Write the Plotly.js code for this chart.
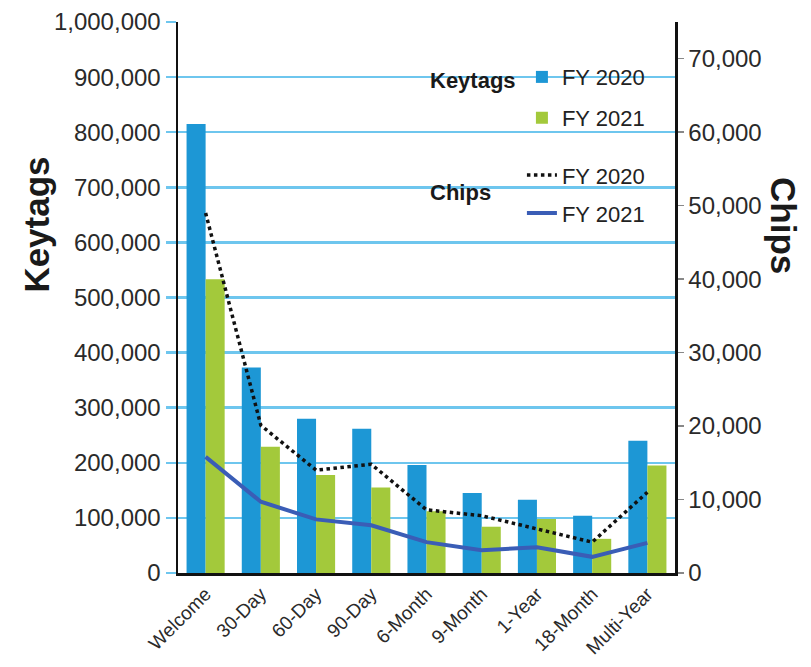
<!DOCTYPE html>
<html>
<head>
<meta charset="utf-8">
<script src="https://cdn.plot.ly/plotly-3.0.1.min.js"></script>
<style>html,body{margin:0;padding:0;background:#fff;}#chart{width:811px;height:667px;}</style>
</head>
<body>
<div id="chart"></div>
<script>
var categories = ['Welcome','30-Day','60-Day','90-Day','6-Month','9-Month','1-Year','18-Month','Multi-Year'];
var keytags2020 = [815000, 373000, 280000, 262000, 196000, 145000, 133000, 104000, 240000];
var keytags2021 = [533000, 229000, 178000, 155000, 112000, 84000, 98000, 62000, 195000];
var chips2020 = [49000, 20100, 14000, 14800, 8600, 7800, 6000, 4200, 11000];
var chips2021 = [15800, 9700, 7300, 6500, 4200, 3100, 3500, 2200, 4100];
var leftTicks = [0,100000,200000,300000,400000,500000,600000,700000,800000,900000,1000000];
var rightTicks = [0,10000,20000,30000,40000,50000,60000,70000];

var sans = '"Liberation Sans", Arial, Helvetica, sans-serif';

var traces = [
  {type:'bar', name:'FY 2020', x:categories, y:keytags2020, yaxis:'y', legend:'legend',
   marker:{color:'#1d97d5', line:{width:0}}},
  {type:'bar', name:'FY 2021', x:categories, y:keytags2021, yaxis:'y', legend:'legend2',
   marker:{color:'#a3c93b', line:{width:0}}},
  {type:'scatter', mode:'lines', name:'FY 2020', x:categories, y:chips2020, yaxis:'y2', legend:'legend3',
   line:{color:'#111111', width:3.5, dash:'dot'}},
  {type:'scatter', mode:'lines', name:'FY 2021', x:categories, y:chips2021, yaxis:'y2', legend:'legend4',
   line:{color:'#3a5db6', width:4}}
];

function leg(y){
  return {x:0.692, y:y, xanchor:'left', yanchor:'middle', bgcolor:'rgba(0,0,0,0)',
          borderwidth:0, font:{family:sans, size:22, color:'#222'}};
}

var layout = {
  width:811, height:667,
  margin:{l:178, r:136, t:22, b:94, pad:0},
  paper_bgcolor:'#ffffff', plot_bgcolor:'#ffffff',
  barmode:'group', bargap:0.31, bargroupgap:0,
  showlegend:true,
  legend:leg(0.900), legend2:leg(0.826), legend3:leg(0.722), legend4:leg(0.653),
  xaxis:{
    type:'category', showline:true, linecolor:'#111', linewidth:2.5, mirror:false,
    ticks:'', tickangle:-45, showgrid:false, zeroline:false,
    tickfont:{family:sans, size:19, color:'#2a2a2a'}
  },
  yaxis:{
    range:[0,1000000], tickvals:leftTicks, tickformat:',d',
    showgrid:true, gridcolor:'#6ec6ee', gridwidth:2.5, zeroline:false,
    showline:true, linecolor:'#111', linewidth:2.5,
    ticks:'outside', ticklen:10, tickwidth:2.5, tickcolor:'#6ec6ee',
    tickfont:{family:sans, size:24, color:'#2a2a2a'}
  },
  yaxis2:{
    overlaying:'y', side:'right', range:[0,75000], tickvals:rightTicks, tickformat:',d',
    showgrid:false, zeroline:false, showline:true, linecolor:'#111', linewidth:2.5,
    ticks:'outside', ticklen:6, tickwidth:1.5, tickcolor:'#888',
    tickfont:{family:sans, size:24, color:'#2a2a2a'}
  },
  shapes:[
    {type:'rect', xref:'paper', yref:'paper', x0:0.487, x1:0.962, y0:0.619, y1:0.976,
     fillcolor:'#ffffff', line:{width:0}, layer:'between'}
  ],
  annotations:[
    {text:'<b>Keytags</b>', xref:'paper', yref:'paper', x:-0.284, y:0.632, textangle:-90,
     showarrow:false, font:{family:sans, size:35, color:'#1a1a1a'}, xanchor:'center', yanchor:'middle'},
    {text:'<b>Chips</b>', xref:'paper', yref:'paper', x:1.217, y:0.630, textangle:90,
     showarrow:false, font:{family:sans, size:35, color:'#1a1a1a'}, xanchor:'center', yanchor:'middle'},
    {text:'<b>Keytags</b>', xref:'paper', yref:'paper', x:0.503, y:0.893,
     showarrow:false, font:{family:sans, size:22, color:'#1a1a1a'}, xanchor:'left', yanchor:'middle'},
    {text:'<b>Chips</b>', xref:'paper', yref:'paper', x:0.503, y:0.691,
     showarrow:false, font:{family:sans, size:22, color:'#1a1a1a'}, xanchor:'left', yanchor:'middle'}
  ]
};

Plotly.newPlot('chart', traces, layout, {displayModeBar:false, staticPlot:true});
</script>
</body>
</html>
